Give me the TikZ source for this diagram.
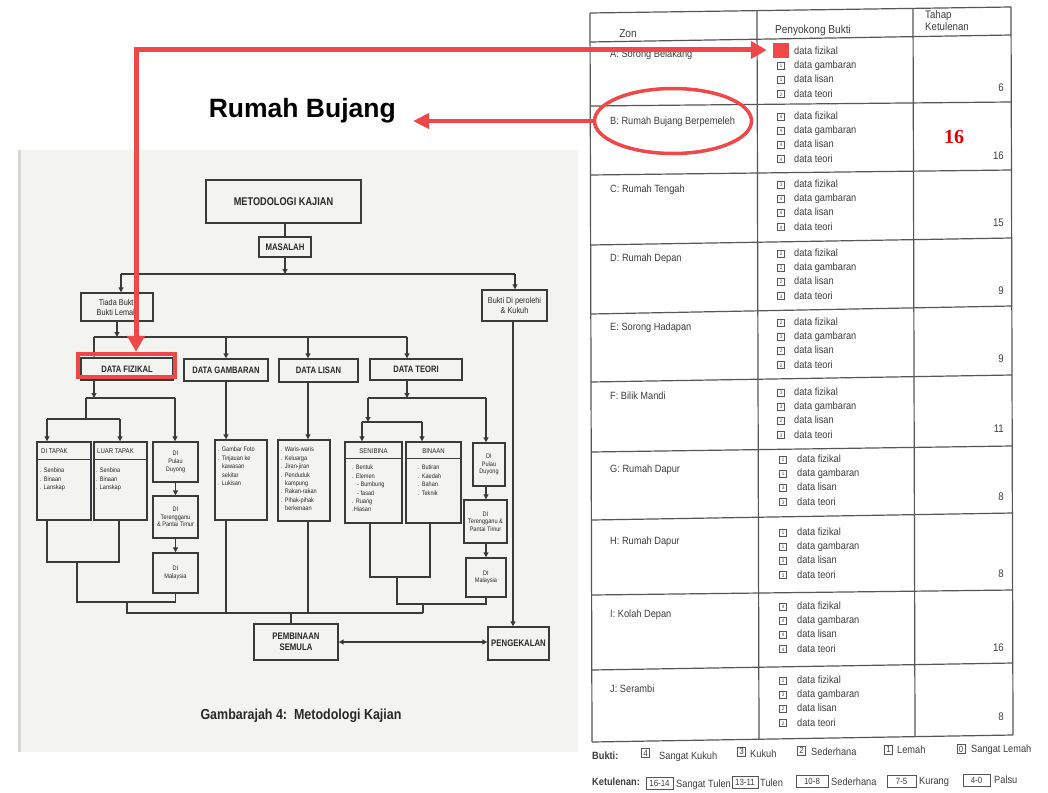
\documentclass[tikz,border=0pt]{standalone}
\usepackage{fontspec}
\setmainfont{Liberation Sans}
\newfontfamily\fcnd[FakeStretch=0.82]{Liberation Sans}
\newfontfamily\fsml[FakeStretch=0.86]{Liberation Sans}
\newfontfamily\ftab[FakeStretch=0.88]{Liberation Sans}
\newfontfamily\fsrf{Liberation Serif}
\usetikzlibrary{arrows.meta,shapes.geometric}
\newcommand\fsz[1]{\fontsize{#1pt}{#1pt}\selectfont}
\definecolor{fg}{RGB}{58,58,58}
\definecolor{ft}{RGB}{40,40,40}
\definecolor{pg}{RGB}{243,243,239}
\definecolor{pgedge}{RGB}{215,215,210}
\definecolor{tl}{RGB}{85,85,85}
\definecolor{tt}{RGB}{60,60,60}
\definecolor{ann}{RGB}{240,72,72}
\definecolor{num}{RGB}{225,0,0}
\tikzset{
 fbox/.style={draw=fg, line width=1.4pt, inner sep=0pt, align=center, text=ft},
 hdbox/.style={fbox, font=\fcnd\bfseries\fsz{9.3}},
 txbox/.style={fbox, font=\fsml\fontsize{6.5pt}{7.6pt}\selectfont},
 fl/.style={draw=fg, line width=1.3pt},
 fa/.style={fl, -{Triangle[length=5pt,width=5pt]}},
 lst/.style={font=\fsml\fontsize{6.5pt}{8.4pt}\selectfont, text=ft, inner sep=0pt, align=left, anchor=north west},
 hdt/.style={font=\fsml\fsz{7}, text=ft, inner sep=0pt},
 annl/.style={draw=ann, line width=5pt},
 tline/.style={draw=tl, line width=1.2pt},
 tlab/.style={font=\ftab\fsz{10.5}, text=tt, inner sep=0pt, anchor=west, text height=7.5pt, text depth=2pt},
 itm/.style={font=\ftab\fsz{10.5}, text=tt, inner sep=0pt, anchor=west, text height=7.5pt, text depth=2pt},
 cb/.style={draw=tl, line width=0.7pt, minimum width=7pt, minimum height=7pt, inner sep=0pt, font=\ftab\fsz{5}, text=tt},
 ttot/.style={font=\ftab\fsz{11}, text=tt, inner sep=0pt, anchor=east, text height=7.5pt, text depth=2pt},
 lg/.style={font=\ftab\fsz{10.5}, text=tt, inner sep=0pt, anchor=west, text height=7.5pt, text depth=2pt},
 lgb/.style={draw=tl, line width=0.8pt, inner sep=0pt, font=\ftab\fsz{9}, text=tt},
}
\def\cbx{781}\def\itx{794}
\newcommand\trow[9]{%
 \node[tlab] (lab#3) at (610,#2) {#1};
 \node[cb] (cba#3) at (\cbx,#3) {#4};
 \node[itm] (ita#3) at (\itx,#3) {data fizikal};
 \node[cb] (cbb#3) at (\cbx,{#3+14.1}) {#5};
 \node[itm] (itb#3) at (\itx,{#3+14.1}) {data gambaran};
 \node[cb] (cbc#3) at (\cbx,{#3+28.2}) {#6};
 \node[itm] (itc#3) at (\itx,{#3+28.2}) {data lisan};
 \node[cb] (cbd#3) at (\cbx,{#3+42.3}) {#7};
 \node[itm] (itd#3) at (\itx,{#3+42.3}) {data teori};
 \node[ttot] (tot#3) at (1004,#9) {#8};
}
\begin{document}
\begin{tikzpicture}[x=1pt,y=-1pt]
\useasboundingbox (0,0) rectangle (1048,792);
% scanned page background
\fill[pg] (18,150) rectangle (578,752);
\fill[pgedge] (18,150) rectangle (21,752);

% ---------- flowchart ----------
\node[hdbox, font=\fcnd\bfseries\fsz{11.2}, minimum width=155pt, minimum height=43pt] (met) at (283.5,201.5) {METODOLOGI KAJIAN};
\node[hdbox, font=\fcnd\bfseries\fsz{9.5}, minimum width=52pt, minimum height=20pt] (mas) at (285,247) {MASALAH};
\node[fbox, font=\fsml\fontsize{8.5pt}{10pt}\selectfont, minimum width=72pt, minimum height=28pt] (tiada) at (117,307) {Tiada Bukti\\Bukti Lemah};
\node[fbox, font=\fsml\fontsize{8.5pt}{9.5pt}\selectfont, minimum width=65pt, minimum height=31pt] (bukti) at (514.5,305.5) {Bukti Di perolehi\\\& Kukuh};
\node[hdbox, minimum width=92pt, minimum height=22pt] (fiz) at (127,369) {DATA FIZIKAL};
\node[hdbox, minimum width=84pt, minimum height=22pt] (gam) at (226,370) {DATA GAMBARAN};
\node[hdbox, minimum width=79pt, minimum height=23pt] (lis) at (318.5,370.5) {DATA LISAN};
\node[hdbox, minimum width=92pt, minimum height=21pt] (teo) at (416,369.5) {DATA TEORI};

% fizikal branch boxes
\node[fbox, minimum width=54pt, minimum height=78pt] (ditapak) at (64,481) {};
\draw[fl] ([yshift=-18pt]ditapak.north west) -- ([yshift=-18pt]ditapak.north east);
\node[hdt, anchor=west] (dth) at (41,451) {DI TAPAK};
\node[lst] (dti) at (40,468) {. Senbina\\. Binaan\\. Lanskap};
\node[fbox, minimum width=53pt, minimum height=78pt] (luar) at (120.5,481) {};
\draw[fl] ([yshift=-18pt]luar.north west) -- ([yshift=-18pt]luar.north east);
\node[hdt, anchor=west] (luh) at (97,451) {LUAR TAPAK};
\node[lst] (lui) at (96,468) {. Senbina\\. Binaan\\. Lanskap};
\node[txbox, minimum width=45pt, minimum height=40pt] (pd1) at (175.5,462) {DI\\Pulau\\Duyong};
\node[txbox, minimum width=45pt, minimum height=42pt] (tr1) at (175.5,517) {DI\\Terengganu\\\& Pantai Timur};
\node[txbox, minimum width=45pt, minimum height=40pt] (my1) at (175.5,573) {DI\\Malaysia};

% gambaran / lisan content
\node[fbox, minimum width=52pt, minimum height=80pt] (gamc) at (241,480) {};
\node[lst] (gami) at (218,447) {. Gambar Foto\\. Tinjauan ke\\\hspace*{4pt}kawasan\\\hspace*{4pt}sekitar\\. Lukisan};
\node[fbox, minimum width=52pt, minimum height=81pt] (lisc) at (304,480.5) {};
\node[lst] (lisi) at (281,447) {. Waris-waris\\. Keluarga\\. Jiran-jiran\\. Penduduk\\\hspace*{4pt}kampung\\. Rakan-rakan\\. Pihak-pihak\\\hspace*{4pt}berkenaan};

% teori branch boxes
\node[fbox, minimum width=57pt, minimum height=81pt] (seni) at (373.5,482.5) {};
\draw[fl] ([yshift=-17pt]seni.north west) -- ([yshift=-17pt]seni.north east);
\node[hdt] (senh) at (373.5,451) {SENIBINA};
\node[lst] (seni1) at (352,465) {. Bentuk\\. Elemen\\\hspace*{5pt}- Bumbung\\\hspace*{5pt}- fasad\\. Ruang\\.Hiasan};
\node[fbox, minimum width=55pt, minimum height=81pt] (bina) at (433.5,482.5) {};
\draw[fl] ([yshift=-17pt]bina.north west) -- ([yshift=-17pt]bina.north east);
\node[hdt] (binh) at (433.5,451) {BINAAN};
\node[lst] (bini) at (418,465) {. Butiran\\. Kaedah\\. Bahan\\. Teknik};
\node[txbox, minimum width=32pt, minimum height=43pt] (pd2) at (489,464.5) {DI\\Pulau\\Duyong};
\node[txbox, minimum width=43pt, minimum height=43pt] (tr2) at (485.5,521.5) {DI\\Terengganu \&\\Pantai Timur};
\node[txbox, minimum width=40pt, minimum height=39pt] (my2) at (486,577.5) {DI\\Malaysia};

% bottom boxes
\node[hdbox, font=\fcnd\bfseries\fontsize{9.5pt}{11pt}\selectfont, minimum width=84pt, minimum height=36pt] (pem) at (296,642) {PEMBINAAN\\SEMULA};
\node[hdbox, font=\fcnd\bfseries\fsz{9.5}, minimum width=61pt, minimum height=33pt] (peng) at (518.5,643.5) {PENGEKALAN};
\node[font=\fsml\bfseries\fsz{14.5}, text=ft, inner sep=0pt] (cap) at (301,716) {Gambarajah 4:\ \ Metodologi Kajian};

% connectors
\draw[fl] (met.south -| mas) -- (mas.north);
\coordinate (h1l) at (121,274); \coordinate (h1r) at (515,274);
\draw[fa] (mas.south) -- (mas.south |- h1l);
\draw[fl] (h1l) -- (h1r);
\draw[fa] (h1l) -- (h1l |- tiada.north);
\draw[fa] (h1r) -- (h1r |- bukti.north);
\coordinate (h2l) at (94,337); \coordinate (h2r) at (407,337); \coordinate (h2c) at (308,337);
\draw[fa] (tiada.south) -- (tiada.south |- h2l);
\draw[fl] (h2l) -- (h2r);
\draw[fa] (h2l) -- (h2l |- fiz.north);
\draw[fa] (h2l -| gam) -- (gam.north);
\draw[fa] (h2c) -- (h2c |- lis.north);
\draw[fa] (h2r) -- (h2r |- teo.north);
% fizikal
\coordinate (f0) at (94,398); \coordinate (f1) at (86,398); \coordinate (f2) at (175,398);
\coordinate (f3) at (86,419); \coordinate (f4) at (47,419); \coordinate (f5) at (120,419);
\draw[fa] (fiz.south -| f0) -- (f0);
\draw[fl] (f1) -- (f2);
\draw[fl] (f1) -- (f3);
\draw[fl] (f4) -- (f5);
\draw[fa] (f4) -- (f4 |- ditapak.north);
\draw[fa] (f5) -- (f5 |- luar.north);
\draw[fa] (f2) -- (f2 |- pd1.north);
\draw[fa] (pd1.south) -- (tr1.north);
\draw[fa] (tr1.south) -- (my1.north);
% gambaran, lisan
\coordinate (l0) at (308,382);
\draw[fa] (gam.south) -- (gam.south |- gamc.north);
\draw[fa] (l0) -- (l0 |- lisc.north);
% teori
\coordinate (t0) at (407,398); \coordinate (t1) at (368,398); \coordinate (t2) at (486,398);
\coordinate (t3) at (368,422); \coordinate (t4) at (362,422); \coordinate (t5) at (422,422);
\draw[fa] (teo.south -| t0) -- (t0);
\draw[fl] (t1) -- (t2);
\draw[fa] (t1) -- (t3);
\draw[fl] (t4) -- (t5);
\draw[fa] (t4) -- (t4 |- seni.north);
\draw[fa] (t5) -- (t5 |- bina.north);
\draw[fa] (t2) -- (t2 |- pd2.north);
\draw[fa] (pd2.south -| t2) -- (t2 |- tr2.north);
\draw[fa] (tr2.south -| t2) -- (t2 |- my2.north);
% bottom collection
\coordinate (b1) at (47,562); \coordinate (b2) at (119,562);
\coordinate (b3) at (77,562); \coordinate (b4) at (77,602); \coordinate (b5) at (175.5,602);
\coordinate (b6) at (127,602); \coordinate (b7) at (127,613); \coordinate (b8) at (423,613);
\draw[fl] (ditapak.south -| b1) -- (b1) -- (b2) -- (luar.south -| b2);
\draw[fl] (b3) -- (b4) -- (b5) -- (my1.south);
\draw[fl] (b6) -- (b7) -- (b8);
\draw[fl] (gamc.south -| gam) -- (gam |- b7);
\draw[fl] (lisc.south -| l0) -- (l0 |- b7);
\coordinate (s1) at (370,577); \coordinate (s2) at (430,577);
\coordinate (s3) at (397,577); \coordinate (s4) at (397,604); \coordinate (s5) at (486,604);
\coordinate (s6) at (423,604);
\draw[fl] (seni.south -| s1) -- (s1) -- (s2) -- (bina.south -| s2);
\draw[fl] (s3) -- (s4) -- (s5) -- (my2.south -| s5);
\draw[fl] (s6) -- (b8);
\coordinate (p0) at (291,613);
\draw[fl] (p0) -- (p0 |- pem.north);
\draw[fl, {Triangle[length=5pt,width=5pt]}-{Triangle[length=5pt,width=5pt]}] (pem.east) -- (pem.east -| peng.west);
\coordinate (k0) at (513,321);
\draw[fa] (k0) -- (k0 |- peng.north);

% ---------- table ----------
\draw[tline] (590,13) -- (1011,7);
\draw[tline] (590,42) -- (1011,35);
\draw[tline] (590,106) -- (1011,102);
\draw[tline] (590,175) -- (1011,170);
\draw[tline] (591,245) -- (1012,238);
\draw[tline] (591,314) -- (1012,306);
\draw[tline] (591,382) -- (1012,375);
\draw[tline] (591,452) -- (1012,446);
\draw[tline] (592,520) -- (1013,513);
\draw[tline] (592,595) -- (1013,590);
\draw[tline] (592,670) -- (1013,663);
\draw[tline] (592,742) -- (1013,735);
\draw[tline] (590,13) -- (592,742);
\draw[tline] (757,10.6) -- (759,739.2);
\draw[tline] (913,8.4) -- (915,736.7);
\draw[tline] (1011,7) -- (1013,735);

\node[font=\ftab\fsz{11.5}, text=tt, inner sep=0pt] (hz) at (628,34) {Zon};
\node[font=\ftab\fsz{11.5}, text=tt, inner sep=0pt] (hp) at (813,31) {Penyokong Bukti};
\node[font=\ftab\fontsize{11pt}{12pt}\selectfont, text=tt, inner sep=0pt, align=left, anchor=north west] (ht) at (925,10) {Tahap\\Ketulenan};

\trow{A: Sorong Belakang}{55}{52}{2}{1}{1}{2}{6}{89}
\trow{B: Rumah Bujang Berpemeleh}{122}{117}{4}{4}{4}{4}{16}{157}
\trow{C: Rumah Tengah}{190}{185}{3}{4}{4}{4}{15}{224}
\trow{D: Rumah Depan}{259}{254}{2}{2}{2}{3}{9}{292}
\trow{E: Sorong Hadapan}{328}{323}{2}{3}{2}{2}{9}{360}
\trow{F: Bilik Mandi}{397}{393}{3}{3}{2}{3}{11}{430}
\def\cbx{783}\def\itx{797}
\trow{G: Rumah Dapur}{470}{460}{1}{1}{3}{3}{8}{498}
\trow{H: Rumah Dapur}{542}{533}{1}{1}{3}{3}{8}{575}
\trow{I: Kolah Depan}{615}{607}{4}{4}{4}{4}{16}{649}
\trow{J: Serambi}{690}{681}{1}{3}{2}{2}{8}{718}

% legend
\node[lg, font=\ftab\bfseries\fsz{10.5}] (lbk) at (592,757) {Bukti:};
\node[lgb, minimum width=8pt, minimum height=9pt] (k4) at (645.5,753) {4};
\node[lg] (k4t) at (659,757) {Sangat Kukuh};
\node[lgb, minimum width=8pt, minimum height=9pt] (k3) at (741.5,751.5) {3};
\node[lg] (k3t) at (750,755) {Kukuh};
\node[lgb, minimum width=8pt, minimum height=9pt] (k2) at (801.5,750.5) {2};
\node[lg] (k2t) at (811,753) {Sederhana};
\node[lgb, minimum width=8pt, minimum height=9pt] (k1) at (888.5,749.5) {1};
\node[lg] (k1t) at (897,751) {Lemah};
\node[lgb, minimum width=8pt, minimum height=9pt] (k0b) at (961,749) {0};
\node[lg] (k0t) at (971,750) {Sangat Lemah};

\node[lg, font=\ftab\bfseries\fsz{10.5}] (lkt) at (592,783) {Ketulenan:};
\node[lgb, minimum width=27pt, minimum height=12pt] (q1) at (659.5,783) {16-14};
\node[lg] (q1t) at (676,784.5) {Sangat Tulen};
\node[lgb, minimum width=26pt, minimum height=12pt] (q2) at (745,782) {13-11};
\node[lg] (q2t) at (760,783.5) {Tulen};
\node[lgb, minimum width=32pt, minimum height=12pt] (q3) at (812,781.5) {10-8};
\node[lg] (q3t) at (831,783) {Sederhana};
\node[lgb, minimum width=29pt, minimum height=12pt] (q4) at (901.5,781) {7-5};
\node[lg] (q4t) at (919,782) {Kurang};
\node[lgb, minimum width=27pt, minimum height=12pt] (q5) at (976.5,780) {4-0};
\node[lg] (q5t) at (994,781) {Palsu};

% ---------- red annotations ----------
\node[draw=ann, line width=4.5pt, minimum width=97pt, minimum height=23pt, inner sep=0pt] (rbox) at (126.5,365.5) {};
\node[fill=ann, minimum width=16pt, minimum height=15pt, inner sep=0pt] (rsq) at (781,50.5) {};
\coordinate (rc) at (136,50);
\draw[annl, {Triangle[length=16pt,width=17pt]}-{Triangle[length=16pt,width=17pt]}, shorten >=6pt] (rbox.north -| rc) -- (rc) -- (rsq.west |- rc);
\node[ellipse, draw=ann, line width=3.5pt, minimum width=157pt, minimum height=65pt, inner sep=0pt] (rell) at (673,121) {};
\node[font=\bfseries\fsz{26.5}, text=black, inner sep=0pt, anchor=east] (rb) at (396,111) {Rumah Bujang};
\draw[annl, line width=4.5pt, -{Triangle[length=16pt,width=15pt]}, shorten >=17pt] (rell.west) -- (rell.west -| rb.east);
\node[font=\fsrf\bfseries\fsz{20}, text=num, inner sep=0pt] (n16) at (954,137) {16};
\end{tikzpicture}
\end{document}
